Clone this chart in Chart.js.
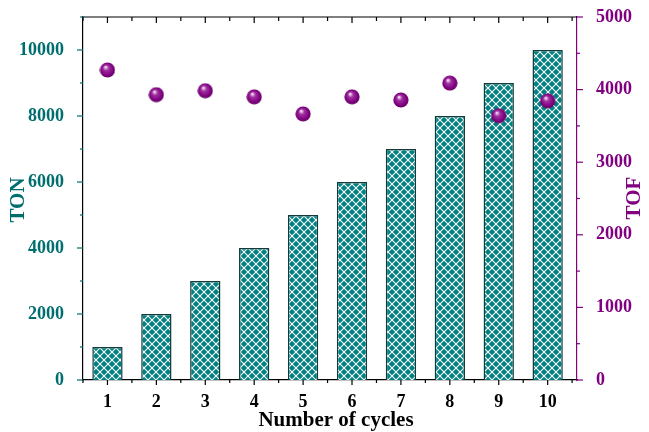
<!DOCTYPE html>
<html>
<head>
<meta charset="utf-8">
<script src="https://cdn.jsdelivr.net/npm/chart.js@4"></script>
<style>
  html, body { margin: 0; padding: 0; background: #fff; }
  #wrap { width: 649px; height: 432px; }
</style>
</head>
<body>
<div id="wrap"><canvas id="chart-ton-tof" width="649" height="432"></canvas></div>
<script>
// cycles and values
const cycles = [1, 2, 3, 4, 5, 6, 7, 8, 9, 10];
const tonValues = [1000, 2000, 3000, 4000, 5000, 6000, 7000, 8000, 9000, 10000];
const tofValues = [4270, 3930, 3985, 3900, 3665, 3900, 3857, 4090, 3640, 3845];
const tonTicks = [0, 2000, 4000, 6000, 8000, 10000];
const tofTicks = [0, 1000, 2000, 3000, 4000, 5000];

const colors = {
  teal: '#008080',
  tealText: '#006e6e',
  purple: '#800080',
  barBorder: '#123c3c',
};

// crosshatch fill for the bars
function makeHatch() {
  const n = 8;
  const c = document.createElement('canvas');
  c.width = n; c.height = n;
  const g = c.getContext('2d');
  g.fillStyle = colors.teal;
  g.fillRect(0, 0, n, n);
  g.strokeStyle = '#ffffff';
  g.lineWidth = 1.1;
  g.beginPath();
  g.moveTo(0, 0); g.lineTo(n, n);
  g.moveTo(n, 0); g.lineTo(0, n);
  g.stroke();
  return document.getElementById('chart-ton-tof').getContext('2d').createPattern(c, 'repeat');
}

// shaded sphere marker
function makeSphere() {
  const c = document.createElement('canvas');
  c.width = 16; c.height = 16;
  const g = c.getContext('2d');
  const grad = g.createRadialGradient(6, 5, 0.5, 8, 8, 8);
  grad.addColorStop(0, '#f4e0f4');
  grad.addColorStop(0.3, '#a030a0');
  grad.addColorStop(0.75, '#800080');
  grad.addColorStop(1, '#5a005a');
  g.fillStyle = grad;
  g.beginPath();
  g.arc(8, 8, 7.6, 0, Math.PI * 2);
  g.fill();
  return c;
}

// ticks (majors + minors), frame top and axis titles
const decorPlugin = {
  id: 'decor',
  afterDraw(chart) {
    const { ctx, chartArea: a, scales } = chart;
    ctx.save();
    ctx.lineWidth = 1.2;

    ctx.strokeStyle = '#000';
    ctx.beginPath();
    ctx.moveTo(a.left, a.top); ctx.lineTo(a.right, a.top);
    ctx.stroke();

    // x ticks: bottom outward, top inward
    for (let v = 0.5; v <= 10.5; v += 0.5) {
      const px = scales.x.getPixelForValue(v);
      const len = Number.isInteger(v) ? 5 : 3;
      ctx.beginPath();
      ctx.moveTo(px, a.bottom); ctx.lineTo(px, a.bottom + len);
      ctx.moveTo(px, a.top); ctx.lineTo(px, a.top + len + 1);
      ctx.stroke();
    }

    ctx.strokeStyle = colors.tealText;
    for (let v = 0; v <= 11000; v += 1000) {
      const py = scales.y.getPixelForValue(v);
      const len = v % 2000 === 0 ? 6 : 3;
      ctx.beginPath();
      ctx.moveTo(a.left, py); ctx.lineTo(a.left - len, py);
      ctx.stroke();
    }

    ctx.strokeStyle = colors.purple;
    for (let v = 0; v <= 5000; v += 500) {
      const py = scales.y2.getPixelForValue(v);
      const len = v % 1000 === 0 ? 6 : 3;
      ctx.beginPath();
      ctx.moveTo(a.right, py); ctx.lineTo(a.right + len, py);
      ctx.stroke();
    }

    // titles
    ctx.font = 'bold 21px "Liberation Serif"';
    ctx.textAlign = 'center';
    ctx.textBaseline = 'middle';
    ctx.fillStyle = '#000';
    ctx.fillText('Number of cycles', (a.left + a.right) / 2 + 6, 421);

    ctx.save();
    ctx.translate(19, 200);
    ctx.rotate(-Math.PI / 2);
    ctx.fillStyle = colors.tealText;
    ctx.fillText('TON', 0, 0);
    ctx.restore();

    ctx.save();
    ctx.translate(635, 198);
    ctx.rotate(-Math.PI / 2);
    ctx.fillStyle = colors.purple;
    ctx.fillText('TOF', 0, 0);
    ctx.restore();

    ctx.restore();
  },
};

const labelFont = { family: 'Liberation Serif', size: 18, weight: 'bold' };

// drop the label overflow padding so the plot box stays where it is in the picture
function fixBox(width, height) {
  return s => {
    if (width) s.width = width;
    if (height) s.height = height;
    s.paddingTop = 0; s.paddingBottom = 0;
    s.paddingLeft = 0; s.paddingRight = 0;
  };
}

new Chart(document.getElementById('chart-ton-tof'), {
  type: 'bar',
  data: {
    datasets: [
      {
        type: 'scatter',
        label: 'TOF',
        data: cycles.map((c, i) => ({ x: c, y: tofValues[i] })),
        yAxisID: 'y2',
        pointStyle: makeSphere(),
        pointRadius: 8,
        order: 0,
      },
      {
        type: 'bar',
        label: 'TON',
        data: cycles.map((c, i) => ({ x: c, y: tonValues[i] })),
        yAxisID: 'y',
        backgroundColor: makeHatch(),
        borderColor: colors.barBorder,
        borderWidth: 1.5,
        barPercentage: 0.62,
        categoryPercentage: 1,
        order: 1,
      },
    ],
  },
  options: {
    responsive: false,
    animation: false,
    layout: { padding: { top: 17, left: 0, right: 0, bottom: 0 } },
    plugins: { legend: { display: false }, tooltip: { enabled: false } },
    scales: {
      x: {
        type: 'linear',
        min: 0.5,
        max: 10.6,
        offset: false,
        afterBuildTicks: s => { s.ticks = cycles.map(v => ({ value: v })); },
        grid: { display: false },
        border: { color: '#000', width: 1.2 },
        ticks: { color: '#000', font: labelFont, padding: 4, maxRotation: 0, callback: v => String(v) },
        afterFit: fixBox(0, 52),
      },
      y: {
        position: 'left',
        min: 0,
        max: 11000,
        afterBuildTicks: s => { s.ticks = tonTicks.map(v => ({ value: v })); },
        grid: { display: false },
        border: { color: '#000', width: 1.2 },
        ticks: { color: colors.tealText, font: labelFont, padding: 11, callback: v => String(v) },
        afterFit: fixBox(83, 0),
      },
      y2: {
        position: 'right',
        min: 0,
        max: 5000,
        afterBuildTicks: s => { s.ticks = tofTicks.map(v => ({ value: v })); },
        grid: { display: false },
        border: { color: colors.purple, width: 1.2 },
        ticks: { color: colors.purple, font: labelFont, padding: 11, callback: v => String(v) },
        afterFit: fixBox(72, 0),
      },
    },
  },
  plugins: [decorPlugin],
});
</script>
</body>
</html>
